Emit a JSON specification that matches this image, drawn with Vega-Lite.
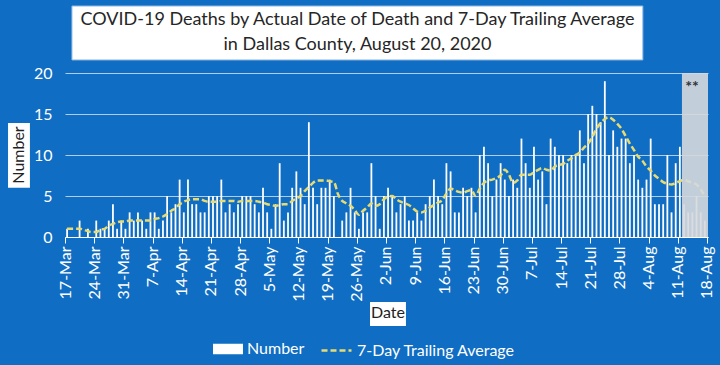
{
  "$schema": "https://vega.github.io/schema/vega-lite/v6.json",
  "autosize": "none",
  "width": 643,
  "height": 164,
  "padding": {"left": 65, "top": 73, "right": 12, "bottom": 128},
  "background": "#0F6DC3",
  "config": {
    "font": "Lato",
    "view": {"stroke": null},
    "legend": {"labelFont": "Lato", "padding": 0}
  },
  "data": {
    "values": [
      {"date": "2020-03-17", "deaths": 1, "avg": 1.0},
      {"date": "2020-03-18", "deaths": 0, "avg": 1.0},
      {"date": "2020-03-19", "deaths": 0, "avg": 1.0},
      {"date": "2020-03-20", "deaths": 2, "avg": 1.0},
      {"date": "2020-03-21", "deaths": 0, "avg": 0.9},
      {"date": "2020-03-22", "deaths": 1, "avg": 0.7},
      {"date": "2020-03-23", "deaths": 0, "avg": 0.6},
      {"date": "2020-03-24", "deaths": 2, "avg": 0.6},
      {"date": "2020-03-25", "deaths": 1, "avg": 0.9},
      {"date": "2020-03-26", "deaths": 1, "avg": 1.0},
      {"date": "2020-03-27", "deaths": 2, "avg": 1.4},
      {"date": "2020-03-28", "deaths": 4, "avg": 1.6},
      {"date": "2020-03-29", "deaths": 1, "avg": 1.8},
      {"date": "2020-03-30", "deaths": 2, "avg": 1.9},
      {"date": "2020-03-31", "deaths": 1, "avg": 1.9},
      {"date": "2020-04-01", "deaths": 3, "avg": 2.0},
      {"date": "2020-04-02", "deaths": 2, "avg": 2.0},
      {"date": "2020-04-03", "deaths": 3, "avg": 2.0},
      {"date": "2020-04-04", "deaths": 2, "avg": 2.0},
      {"date": "2020-04-05", "deaths": 1, "avg": 2.0},
      {"date": "2020-04-06", "deaths": 3, "avg": 2.0},
      {"date": "2020-04-07", "deaths": 3, "avg": 2.2},
      {"date": "2020-04-08", "deaths": 1, "avg": 2.3},
      {"date": "2020-04-09", "deaths": 2, "avg": 2.5},
      {"date": "2020-04-10", "deaths": 5, "avg": 2.8},
      {"date": "2020-04-11", "deaths": 3, "avg": 3.2},
      {"date": "2020-04-12", "deaths": 4, "avg": 3.5},
      {"date": "2020-04-13", "deaths": 7, "avg": 4.0},
      {"date": "2020-04-14", "deaths": 3, "avg": 4.3},
      {"date": "2020-04-15", "deaths": 7, "avg": 4.5},
      {"date": "2020-04-16", "deaths": 4, "avg": 4.6},
      {"date": "2020-04-17", "deaths": 4, "avg": 4.6},
      {"date": "2020-04-18", "deaths": 3, "avg": 4.6},
      {"date": "2020-04-19", "deaths": 3, "avg": 4.4},
      {"date": "2020-04-20", "deaths": 5, "avg": 4.3},
      {"date": "2020-04-21", "deaths": 5, "avg": 4.3},
      {"date": "2020-04-22", "deaths": 5, "avg": 4.3},
      {"date": "2020-04-23", "deaths": 7, "avg": 4.4},
      {"date": "2020-04-24", "deaths": 3, "avg": 4.4},
      {"date": "2020-04-25", "deaths": 4, "avg": 4.4},
      {"date": "2020-04-26", "deaths": 3, "avg": 4.4},
      {"date": "2020-04-27", "deaths": 4, "avg": 4.3},
      {"date": "2020-04-28", "deaths": 5, "avg": 4.4},
      {"date": "2020-04-29", "deaths": 5, "avg": 4.4},
      {"date": "2020-04-30", "deaths": 5, "avg": 4.4},
      {"date": "2020-05-01", "deaths": 4, "avg": 4.4},
      {"date": "2020-05-02", "deaths": 3, "avg": 4.3},
      {"date": "2020-05-03", "deaths": 6, "avg": 4.2},
      {"date": "2020-05-04", "deaths": 3, "avg": 4.0},
      {"date": "2020-05-05", "deaths": 1, "avg": 3.9},
      {"date": "2020-05-06", "deaths": 4, "avg": 3.8},
      {"date": "2020-05-07", "deaths": 9, "avg": 3.9},
      {"date": "2020-05-08", "deaths": 2, "avg": 4.0},
      {"date": "2020-05-09", "deaths": 3, "avg": 4.0},
      {"date": "2020-05-10", "deaths": 6, "avg": 4.4},
      {"date": "2020-05-11", "deaths": 8, "avg": 4.7},
      {"date": "2020-05-12", "deaths": 6, "avg": 5.0},
      {"date": "2020-05-13", "deaths": 4, "avg": 5.6},
      {"date": "2020-05-14", "deaths": 14, "avg": 6.1},
      {"date": "2020-05-15", "deaths": 6, "avg": 6.6},
      {"date": "2020-05-16", "deaths": 4, "avg": 6.9},
      {"date": "2020-05-17", "deaths": 6, "avg": 6.9},
      {"date": "2020-05-18", "deaths": 6, "avg": 6.9},
      {"date": "2020-05-19", "deaths": 7, "avg": 6.8},
      {"date": "2020-05-20", "deaths": 5, "avg": 6.7},
      {"date": "2020-05-21", "deaths": 0, "avg": 5.2},
      {"date": "2020-05-22", "deaths": 2, "avg": 4.4},
      {"date": "2020-05-23", "deaths": 3, "avg": 4.1},
      {"date": "2020-05-24", "deaths": 6, "avg": 3.8},
      {"date": "2020-05-25", "deaths": 3, "avg": 3.3},
      {"date": "2020-05-26", "deaths": 1, "avg": 2.7},
      {"date": "2020-05-27", "deaths": 3, "avg": 3.2},
      {"date": "2020-05-28", "deaths": 3, "avg": 3.6},
      {"date": "2020-05-29", "deaths": 9, "avg": 4.1},
      {"date": "2020-05-30", "deaths": 5, "avg": 3.8},
      {"date": "2020-05-31", "deaths": 1, "avg": 4.0},
      {"date": "2020-06-01", "deaths": 5, "avg": 4.6},
      {"date": "2020-06-02", "deaths": 6, "avg": 4.9},
      {"date": "2020-06-03", "deaths": 5, "avg": 5.0},
      {"date": "2020-06-04", "deaths": 3, "avg": 4.6},
      {"date": "2020-06-05", "deaths": 4, "avg": 4.3},
      {"date": "2020-06-06", "deaths": 5, "avg": 4.1},
      {"date": "2020-06-07", "deaths": 2, "avg": 3.9},
      {"date": "2020-06-08", "deaths": 2, "avg": 3.5},
      {"date": "2020-06-09", "deaths": 3, "avg": 3.1},
      {"date": "2020-06-10", "deaths": 2, "avg": 3.0},
      {"date": "2020-06-11", "deaths": 4, "avg": 3.2},
      {"date": "2020-06-12", "deaths": 5, "avg": 3.6},
      {"date": "2020-06-13", "deaths": 7, "avg": 3.9},
      {"date": "2020-06-14", "deaths": 5, "avg": 4.2},
      {"date": "2020-06-15", "deaths": 4, "avg": 4.5},
      {"date": "2020-06-16", "deaths": 9, "avg": 5.3},
      {"date": "2020-06-17", "deaths": 8, "avg": 5.9},
      {"date": "2020-06-18", "deaths": 3, "avg": 5.7},
      {"date": "2020-06-19", "deaths": 3, "avg": 5.5},
      {"date": "2020-06-20", "deaths": 6, "avg": 5.4},
      {"date": "2020-06-21", "deaths": 5, "avg": 5.6},
      {"date": "2020-06-22", "deaths": 6, "avg": 5.7},
      {"date": "2020-06-23", "deaths": 3, "avg": 5.0},
      {"date": "2020-06-24", "deaths": 10, "avg": 5.9},
      {"date": "2020-06-25", "deaths": 11, "avg": 6.6},
      {"date": "2020-06-26", "deaths": 9, "avg": 6.9},
      {"date": "2020-06-27", "deaths": 5, "avg": 7.0},
      {"date": "2020-06-28", "deaths": 7, "avg": 7.2},
      {"date": "2020-06-29", "deaths": 9, "avg": 7.5},
      {"date": "2020-06-30", "deaths": 7, "avg": 8.2},
      {"date": "2020-07-01", "deaths": 5, "avg": 7.6},
      {"date": "2020-07-02", "deaths": 7, "avg": 6.6},
      {"date": "2020-07-03", "deaths": 6, "avg": 6.9},
      {"date": "2020-07-04", "deaths": 12, "avg": 7.6},
      {"date": "2020-07-05", "deaths": 9, "avg": 7.6},
      {"date": "2020-07-06", "deaths": 6, "avg": 7.6},
      {"date": "2020-07-07", "deaths": 11, "avg": 7.9},
      {"date": "2020-07-08", "deaths": 7, "avg": 8.2},
      {"date": "2020-07-09", "deaths": 8, "avg": 8.4},
      {"date": "2020-07-10", "deaths": 4, "avg": 8.2},
      {"date": "2020-07-11", "deaths": 12, "avg": 8.1},
      {"date": "2020-07-12", "deaths": 11, "avg": 8.6},
      {"date": "2020-07-13", "deaths": 10, "avg": 8.8},
      {"date": "2020-07-14", "deaths": 10, "avg": 8.9},
      {"date": "2020-07-15", "deaths": 9, "avg": 9.3},
      {"date": "2020-07-16", "deaths": 10, "avg": 9.6},
      {"date": "2020-07-17", "deaths": 10, "avg": 10.0},
      {"date": "2020-07-18", "deaths": 13, "avg": 10.3},
      {"date": "2020-07-19", "deaths": 9, "avg": 10.9},
      {"date": "2020-07-20", "deaths": 15, "avg": 11.4},
      {"date": "2020-07-21", "deaths": 16, "avg": 12.2},
      {"date": "2020-07-22", "deaths": 15, "avg": 13.2},
      {"date": "2020-07-23", "deaths": 14, "avg": 13.9},
      {"date": "2020-07-24", "deaths": 19, "avg": 14.4},
      {"date": "2020-07-25", "deaths": 10, "avg": 14.6},
      {"date": "2020-07-26", "deaths": 13, "avg": 14.3},
      {"date": "2020-07-27", "deaths": 11, "avg": 13.8},
      {"date": "2020-07-28", "deaths": 12, "avg": 13.2},
      {"date": "2020-07-29", "deaths": 12, "avg": 12.3},
      {"date": "2020-07-30", "deaths": 9, "avg": 11.4},
      {"date": "2020-07-31", "deaths": 10, "avg": 10.6},
      {"date": "2020-08-01", "deaths": 7, "avg": 9.8},
      {"date": "2020-08-02", "deaths": 6, "avg": 9.3},
      {"date": "2020-08-03", "deaths": 7, "avg": 8.6},
      {"date": "2020-08-04", "deaths": 12, "avg": 8.1},
      {"date": "2020-08-05", "deaths": 4, "avg": 7.5},
      {"date": "2020-08-06", "deaths": 4, "avg": 7.1},
      {"date": "2020-08-07", "deaths": 4, "avg": 6.7},
      {"date": "2020-08-08", "deaths": 10, "avg": 6.5},
      {"date": "2020-08-09", "deaths": 3, "avg": 6.4},
      {"date": "2020-08-10", "deaths": 9, "avg": 6.6},
      {"date": "2020-08-11", "deaths": 11, "avg": 6.8},
      {"date": "2020-08-12", "deaths": 4, "avg": 7.0},
      {"date": "2020-08-13", "deaths": 3, "avg": 6.8},
      {"date": "2020-08-14", "deaths": 3, "avg": 6.6},
      {"date": "2020-08-15", "deaths": 5, "avg": 6.4},
      {"date": "2020-08-16", "deaths": 3, "avg": 5.8},
      {"date": "2020-08-17", "deaths": 2, "avg": 5.0}
    ]
  },
  "layer": [
    {
      "mark": {"type": "bar", "width": 1.8, "color": "#FFFFFF"},
      "encoding": {
        "x": {
          "field": "date", "type": "temporal", "timeUnit": "utcyearmonthdate", "bandPosition": 0.5,
          "scale": {"domain": [{"year": 2020, "month": 3, "date": 17, "utc": true}, {"year": 2020, "month": 8, "date": 18, "hours": 6, "utc": true}]},
          "axis": {
            "values": [
              {"year": 2020, "month": 3, "date": 17, "utc": true},
              {"year": 2020, "month": 3, "date": 24, "utc": true},
              {"year": 2020, "month": 3, "date": 31, "utc": true},
              {"year": 2020, "month": 4, "date": 7, "utc": true},
              {"year": 2020, "month": 4, "date": 14, "utc": true},
              {"year": 2020, "month": 4, "date": 21, "utc": true},
              {"year": 2020, "month": 4, "date": 28, "utc": true},
              {"year": 2020, "month": 5, "date": 5, "utc": true},
              {"year": 2020, "month": 5, "date": 12, "utc": true},
              {"year": 2020, "month": 5, "date": 19, "utc": true},
              {"year": 2020, "month": 5, "date": 26, "utc": true},
              {"year": 2020, "month": 6, "date": 2, "utc": true},
              {"year": 2020, "month": 6, "date": 9, "utc": true},
              {"year": 2020, "month": 6, "date": 16, "utc": true},
              {"year": 2020, "month": 6, "date": 23, "utc": true},
              {"year": 2020, "month": 6, "date": 30, "utc": true},
              {"year": 2020, "month": 7, "date": 7, "utc": true},
              {"year": 2020, "month": 7, "date": 14, "utc": true},
              {"year": 2020, "month": 7, "date": 21, "utc": true},
              {"year": 2020, "month": 7, "date": 28, "utc": true},
              {"year": 2020, "month": 8, "date": 4, "utc": true},
              {"year": 2020, "month": 8, "date": 11, "utc": true},
              {"year": 2020, "month": 8, "date": 18, "utc": true}
            ],
            "tickCount": 40,
            "labelExpr": "utcFormat(datum.value, '%-d-%b')",
            "labelAngle": -90, "labelColor": "#FFFFFF", "labelFont": "Lato", "labelFontSize": 16, "labelPadding": 3,
            "labelOverlap": false, "labelFlush": false, "labelBound": false,
            "tickColor": "#FFFFFF", "tickSize": 6, "domainColor": "#FFFFFF", "domainWidth": 1.2, "grid": false,
            "title": null,
            "zindex": 1
          }
        },
        "y": {
          "field": "deaths", "type": "quantitative",
          "scale": {"domain": [0, 20]},
          "axis": {"values": [0, 5, 10, 15, 20], "title": null, "labelColor": "#FFFFFF", "labelFont": "Lato", "labelFontSize": 16, "ticks": false, "domain": false, "gridColor": "#AFCDEC", "gridWidth": 1, "labelPadding": 13}
        },
        "fill": {
          "datum": "Number", "type": "nominal",
          "scale": {"range": ["#FFFFFF"]},
          "legend": {"orient": "none", "legendX": 148, "legendY": 261, "direction": "horizontal", "title": null, "labelColor": "#FFFFFF", "labelFontSize": 16, "symbolType": "M-1,-0.35H1V0.35H-1Z", "symbolSize": 900, "symbolStrokeWidth": 0, "symbolOpacity": 1, "labelOffset": 4}
        }
      }
    },
    {
      "mark": {"type": "line", "stroke": "#E8DB72", "strokeWidth": 2.5, "interpolate": "monotone"},
      "encoding": {
        "x": {"field": "date", "type": "temporal", "timeUnit": "utcyearmonthdate", "bandPosition": 0.5},
        "y": {"field": "avg", "type": "quantitative"},
        "strokeDash": {
          "datum": "7-Day Trailing Average", "type": "nominal",
          "scale": {"range": [[6, 3]]},
          "legend": {"orient": "none", "legendX": 255, "legendY": 261, "direction": "horizontal", "title": null, "labelColor": "#FFFFFF", "labelFontSize": 16, "symbolType": "stroke", "symbolStrokeColor": "#E8DB72", "symbolStrokeWidth": 2.5, "symbolSize": 900, "labelOffset": 4}
        }
      }
    },
    {
      "data": {"values": [{}]},
      "mark": {"type": "rect", "fill": "#D6D8DC", "opacity": 0.9},
      "encoding": {
        "x": {"datum": {"year": 2020, "month": 8, "date": 12, "utc": true}, "type": "temporal"},
        "x2": {"datum": {"year": 2020, "month": 8, "date": 18, "hours": 6, "utc": true}},
        "y": {"datum": 0, "type": "quantitative"},
        "y2": {"datum": 20}
      }
    },
    {
      "data": {"values": [{}]},
      "mark": {"type": "text", "text": "**", "font": "Lato", "fontSize": 16, "fontWeight": "bold", "color": "#333333", "align": "center", "baseline": "middle"},
      "encoding": {
        "x": {"datum": {"year": 2020, "month": 8, "date": 14, "hours": 10, "utc": true}, "type": "temporal"},
        "y": {"datum": 18.3, "type": "quantitative"}
      }
    },
    {
      "data": {"values": [{}]},
      "mark": {"type": "rect", "fill": "#FFFFFF", "stroke": "#8DB8E2", "strokeWidth": 1},
      "encoding": {
        "x": {"datum": {"year": 2020, "month": 3, "date": 18, "hours": 16, "utc": true}, "type": "temporal"},
        "x2": {"datum": {"year": 2020, "month": 8, "date": 2, "hours": 15, "utc": true}},
        "y": {"datum": 28.17, "type": "quantitative"},
        "y2": {"datum": 21.59}
      }
    },
    {
      "data": {"values": [{}]},
      "mark": {"type": "text", "text": "COVID-19 Deaths by Actual Date of Death and 7-Day Trailing Average", "font": "Lato", "fontSize": 18, "color": "#262626", "align": "center", "baseline": "middle"},
      "encoding": {
        "x": {"datum": {"year": 2020, "month": 5, "date": 26, "hours": 4, "utc": true}, "type": "temporal"},
        "y": {"datum": 26.46, "type": "quantitative"}
      }
    },
    {
      "data": {"values": [{}]},
      "mark": {"type": "text", "text": "in Dallas County, August 20, 2020", "font": "Lato", "fontSize": 18, "color": "#262626", "align": "center", "baseline": "middle"},
      "encoding": {
        "x": {"datum": {"year": 2020, "month": 5, "date": 26, "hours": 4, "utc": true}, "type": "temporal"},
        "y": {"datum": 23.41, "type": "quantitative"}
      }
    },
    {
      "data": {"values": [{}]},
      "mark": {"type": "rect", "fill": "#FFFFFF"},
      "encoding": {
        "x": {"datum": {"year": 2020, "month": 3, "date": 3, "hours": 8, "utc": true}, "type": "temporal"},
        "x2": {"datum": {"year": 2020, "month": 3, "date": 8, "hours": 14, "utc": true}},
        "y": {"datum": 13.9, "type": "quantitative"},
        "y2": {"datum": 6.0}
      }
    },
    {
      "data": {"values": [{}]},
      "mark": {"type": "text", "text": "Number", "font": "Lato", "fontSize": 16, "color": "#222222", "angle": 270, "align": "center", "baseline": "middle"},
      "encoding": {
        "x": {"datum": {"year": 2020, "month": 3, "date": 5, "hours": 23, "utc": true}, "type": "temporal"},
        "y": {"datum": 10.0, "type": "quantitative"}
      }
    },
    {
      "data": {"values": [{}]},
      "mark": {"type": "rect", "fill": "#FFFFFF"},
      "encoding": {
        "x": {"datum": {"year": 2020, "month": 5, "date": 29, "hours": 4, "utc": true}, "type": "temporal"},
        "x2": {"datum": {"year": 2020, "month": 6, "date": 6, "hours": 19, "utc": true}},
        "y": {"datum": -7.93, "type": "quantitative"},
        "y2": {"datum": -10.85}
      }
    },
    {
      "data": {"values": [{}]},
      "mark": {"type": "text", "text": "Date", "font": "Lato", "fontSize": 16, "color": "#222222", "align": "center", "baseline": "middle"},
      "encoding": {
        "x": {"datum": {"year": 2020, "month": 6, "date": 2, "hours": 11, "utc": true}, "type": "temporal"},
        "y": {"datum": -9.3, "type": "quantitative"}
      }
    }
  ]
}
